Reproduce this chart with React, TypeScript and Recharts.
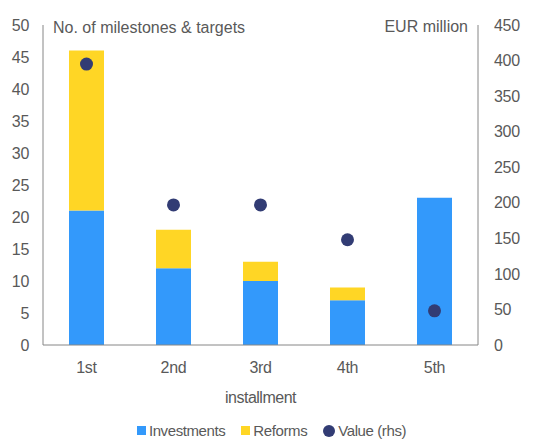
import { Bar, ComposedChart, Legend, Scatter, XAxis, YAxis } from "recharts";

const installments = ["1st", "2nd", "3rd", "4th", "5th"];
const investments = [21, 12, 10, 7, 23];
const reforms = [25, 6, 3, 2, 0];
const valueRhs = [395, 197, 197, 148, 48];

const leftTicks = [0, 5, 10, 15, 20, 25, 30, 35, 40, 45, 50];
const rightTicks = [0, 50, 100, 150, 200, 250, 300, 350, 400, 450];

const BLUE = "#3399fb";
const YELLOW = "#ffd625";
const NAVY = "#323c74";
const GREY = "#595959";
const AXIS = "#868686";
const FONT = "'Liberation Sans', Arial, sans-serif";

const data = installments.map((name, i) => ({
  name,
  investments: investments[i],
  reforms: reforms[i],
  value: valueRhs[i],
}));

const legendItems = [
  { label: "Investments", color: BLUE, shape: "square" },
  { label: "Reforms", color: YELLOW, shape: "square" },
  { label: "Value (rhs)", color: NAVY, shape: "circle" },
];

function LegendContent() {
  return (
    <div style={{ display: "flex", justifyContent: "center", gap: 16, paddingRight: 6, fontFamily: FONT, fontSize: 15, color: GREY, letterSpacing: -0.4 }}>
      {legendItems.map((it) => (
        <span key={it.label} style={{ display: "flex", alignItems: "center", gap: 3 }}>
          <span
            style={{
              width: it.shape === "circle" ? 12 : 9,
              height: it.shape === "circle" ? 12 : 9,
              borderRadius: it.shape === "circle" ? "50%" : 0,
              background: it.color,
              display: "inline-block",
            }}
          />
          {it.label}
        </span>
      ))}
    </div>
  );
}

const tick = { fill: GREY, fontSize: 16, fontFamily: FONT, letterSpacing: -0.3 };

export default function App() {
  return (
    <div style={{ position: "absolute", left: 0, top: 0, width: 549, height: 439, background: "#fff" }}>
      <ComposedChart width={549} height={439} data={data} margin={{ top: 25, right: 0, left: 0, bottom: 0 }} barSize={35}>
        <XAxis
          dataKey="name"
          tick={tick}
          tickLine={false}
          axisLine={{ stroke: AXIS }}
          tickMargin={11}
          height={77}
          label={{ value: "installment", position: "insideBottom", offset: 19, fill: GREY, fontSize: 16, fontFamily: FONT, letterSpacing: -0.5 }}
        />
        <YAxis
          yAxisId="left"
          domain={[0, 50]}
          ticks={leftTicks}
          interval={0}
          width={43}
          tick={tick}
          tickLine={false}
          axisLine={{ stroke: AXIS }}
          tickMargin={8}
        />
        <YAxis
          yAxisId="right"
          orientation="right"
          domain={[0, 450]}
          ticks={rightTicks}
          interval={0}
          width={71}
          tick={tick}
          tickLine={false}
          axisLine={{ stroke: AXIS }}
          tickMargin={10}
        />
        <Legend verticalAlign="bottom" content={<LegendContent />} />
        <Bar yAxisId="left" dataKey="investments" stackId="a" fill={BLUE} isAnimationActive={false} />
        <Bar yAxisId="left" dataKey="reforms" stackId="a" fill={YELLOW} isAnimationActive={false} />
        <Scatter
          yAxisId="right"
          dataKey="value"
          fill={NAVY}
          isAnimationActive={false}
          shape={(p: any) => <circle cx={p.cx} cy={p.cy} r={6.5} fill={NAVY} />}
        />
      </ComposedChart>
      <div style={{ position: "absolute", left: 53, top: 19, fontFamily: FONT, fontSize: 16, color: GREY }}>
        No. of milestones &amp; targets
      </div>
      <div style={{ position: "absolute", right: 81, top: 18, fontFamily: FONT, fontSize: 16, color: GREY }}>
        EUR million
      </div>
    </div>
  );
}
